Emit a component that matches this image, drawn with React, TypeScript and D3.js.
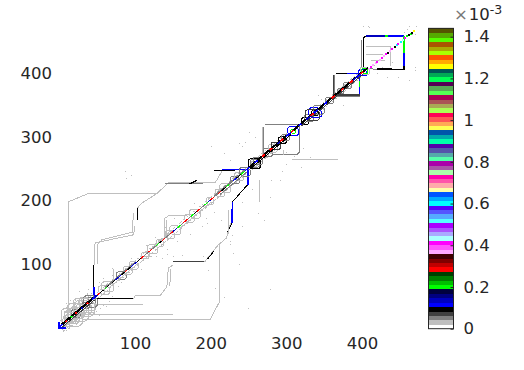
import { useEffect, useRef } from "react";
import * as d3 from "d3";

const axisTicks = [100, 200, 300, 400];
const colorTicks = [0, 0.2, 0.4, 0.6, 0.8, 1, 1.2, 1.4];
const colorTickLabels = ["0", "0.2", "0.4", "0.6", "0.8", "1", "1.2", "1.4"];
const maxValue = 1.44;

// colormap, lowest value first
const palette = [
  "#ffffff", "#bfbfbf", "#808080", "#404040", "#000000", "#0000ff", "#0000bf", "#00007f", "#00003f",
  "#00ff00", "#00bf00", "#007f00", "#003f00", "#ff0000", "#bf0000", "#7f0000", "#3f0000",
  "#ffaaff", "#ff55ff", "#ff00ff", "#aaffff", "#aaaaff", "#aa55ff", "#aa00ff",
  "#55ffff", "#55aaff", "#5555ff", "#5500ff", "#00ffff", "#00aaff", "#0055ff",
  "#ffffaa", "#ffaaaa", "#ff55aa", "#ff00aa", "#aaffaa", "#aa55aa", "#aa00aa",
  "#55ffaa", "#55aaaa", "#5555aa", "#5500aa", "#00ffaa", "#00aaaa", "#0055aa",
  "#ffff55", "#ffaa55", "#ff5555", "#ff0055", "#aaff55", "#aaaa55", "#aa5555", "#aa0055",
  "#55ff55", "#55aa55", "#550055", "#00ff55", "#00aa55", "#005555",
  "#ffff00", "#ffaa00", "#ff5500", "#aaff00", "#aaaa00", "#aa5500", "#55ff00", "#55aa00", "#555500",
];

// value levels used below (x 1e-3)
const LIGHT = 0.03;
const MID = 0.053;
const DARK = 0.075;
const BLACK = 0.095;
const BLUE = 0.117;
const NAVY = 0.14;
const GREEN = 0.2;
const RED = 0.285;

// long off-diagonal ridges: value, then [row, col] points
const ridges: [number, [number, number][]][] = [
  [BLACK, [[45, 46], [45, 98]]],
  [BLUE, [[46, 46], [46, 64]]],
  [LIGHT, [[46, 98], [47, 133], [54, 135], [98, 146], [100, 160]]],
  [LIGHT, [[50, 100], [50, 130], [56, 138], [96, 150], [98, 180]]],
  [BLACK, [[103, 170], [103, 188]]],
  [LIGHT, [[103, 188], [109, 196], [129, 211], [144, 228], [206, 228], [215, 246]]],
  [MID, [[140, 226], [190, 226]]],
  [BLACK, [[172, 226], [182, 232]]],
  [LIGHT, [[12, 17], [12, 198], [38, 211], [129, 211]]],
  [LIGHT, [[139, 143], [139, 172], [146, 177], [168, 177]]],
  [LIGHT, [[142, 146], [142, 170]]],
  [BLUE, [[215, 249], [250, 249]]],
  [BLACK, [[205, 247], [232, 247]]],
  [BLACK, [[46, 45], [98, 45]]],
  [LIGHT, [[98, 45], [100, 50], [133, 50], [142, 64], [144, 94], [150, 98]]],
  [LIGHT, [[146, 66], [147, 92]]],
  [DARK, [[150, 104], [192, 104]]],
  [LIGHT, [[192, 103], [199, 114], [210, 130], [221, 141], [226, 164]]],
  [BLACK, [[196, 108], [204, 120]]],
  [BLUE, [[228, 164], [229, 198]]],
  [BLACK, [[222, 150], [228, 164]]],
  [BLACK, [[229, 198], [240, 213], [249, 225]]],
  [BLUE, [[249, 225], [249, 248]]],
  [LIGHT, [[223, 148], [223, 185]]],
  [LIGHT, [[31, 12], [199, 12], [211, 39], [211, 130]]],
  [LIGHT, [[46, 36], [110, 36]]],
  [LIGHT, [[30, 20], [150, 20]]],
  [LIGHT, [[20, 24], [46, 24]]],
  [LIGHT, [[264, 198], [264, 232]]],
  [LIGHT, [[307, 264], [368, 264]]],
  [LIGHT, [[72, 74], [72, 92]]],
  [LIGHT, [[110, 112], [122, 112]]],
];

// square blocks on the diagonal, the larger ones have their own edges
const blocks: [number, [number, number][]][] = [
  [BLACK, [[402, 405], [402, 456], [405, 459]]],
  [MID, [[400, 410], [400, 452]]],
  [NAVY, [[405, 459], [430, 459]]],
  [GREEN, [[430, 459], [434, 459]]],
  [BLUE, [[434, 459], [456, 459]]],
  [GREEN, [[456, 459], [456, 432]]],
  [BLUE, [[456, 432], [456, 412]]],
  [BLACK, [[456, 412], [456, 406]]],
  [BLACK, [[456, 406], [420, 407]]],
  [MID, [[420, 406], [410, 408]]],
  [LIGHT, [[406, 442], [438, 442], [438, 411]]],
  [LIGHT, [[406, 430], [428, 430]]],
  [LIGHT, [[412, 420], [430, 420]]],
  [BLACK, [[366, 400], [380, 400]]],
  [BLUE, [[380, 400], [397, 400]]],
  [BLUE, [[397, 400], [397, 388]]],
  [GREEN, [[397, 388], [397, 378]]],
  [BLUE, [[397, 378], [397, 367]]],
  [DARK, [[397, 366], [364, 366]]],
  [MID, [[397, 364.5], [364, 364.5]]],
  [MID, [[364, 366], [364, 398]]],
  [DARK, [[362.5, 366], [362.5, 398]]],
  [MID, [[272, 319], [316, 319], [318, 316], [318, 277], [314, 272], [282, 272]]],
  [MID, [[270, 316], [270, 274]]],
  [LIGHT, [[268, 316], [268, 276]]],
  [LIGHT, [[296, 272], [296, 280]]],
];

// loops around the diagonal: from, to, value
const loops: [number, number, number][] = [
  [4, 14, LIGHT], [8, 20, LIGHT], [6, 26, LIGHT], [14, 32, LIGHT], [10, 38, LIGHT], [20, 42, LIGHT], [26, 48, LIGHT], [32, 50, MID],
  [16, 28, MID], [30, 40, MID], [38, 48, MID], [12, 24, LIGHT], [22, 36, LIGHT], [2, 30, LIGHT], [18, 46, LIGHT],
  [52, 66, LIGHT], [56, 72, LIGHT], [76, 88, MID], [84, 96, LIGHT], [92, 104, LIGHT],
  [108, 118, LIGHT], [116, 130, LIGHT], [128, 138, LIGHT], [140, 152, LIGHT], [146, 160, LIGHT], [166, 178, LIGHT], [172, 186, LIGHT],
  [194, 204, LIGHT], [206, 218, LIGHT], [212, 226, LIGHT], [226, 238, MID], [232, 244, LIGHT], [238, 252, MID],
  [250, 266, BLACK], [252, 264, MID], [254, 262, LIGHT], [256, 268, MID],
  [268, 276, LIGHT], [270, 282, MID], [276, 288, LIGHT], [280, 292, DARK], [290, 300, BLACK], [294, 304, MID], [302, 316, BLUE], [306, 312, GREEN],
  [320, 330, BLACK], [324, 336, MID], [330, 346, BLUE], [334, 342, BLACK], [336, 350, MID], [326, 344, DARK],
  [352, 362, MID], [368, 376, MID], [376, 386, MID], [396, 406, BLUE], [398, 410, LIGHT], [400, 408, GREEN],
];

// small blue corner at the very start
const startCorner: [number, number][] = [[-1, 8], [-1, -1], [8, -1]];

// runs along the diagonal: from, to, value
const diagonal: [number, number, number][] = [
  [1, 4, BLUE], [4, 8, BLACK], [8, 10, RED], [10, 15, BLACK], [15, 17, GREEN], [17, 21, BLACK], [21, 23, RED], [23, 29, BLACK], [29, 31, NAVY],
  [31, 36, BLACK], [36, 38, RED], [38, 43, BLACK], [43, 47, BLUE], [47, 50, NAVY], [50, 54, RED], [54, 58, BLACK], [58, 60, LIGHT], [60, 63, GREEN],
  [63, 66, BLACK], [66, 70, MID], [70, 74, BLACK], [74, 78, NAVY], [78, 82, BLUE], [82, 86, BLACK], [86, 90, RED], [90, 94, BLACK],
  [94, 98, BLUE], [98, 103, NAVY], [103, 108, BLACK], [108, 112, RED], [112, 118, MID], [118, 122, RED], [122, 128, MID], [128, 132, GREEN],
  [132, 136, BLACK], [136, 140, RED], [140, 146, MID], [146, 150, RED], [150, 156, NAVY], [156, 160, GREEN], [160, 164, MID], [164, 170, RED],
  [170, 174, MID], [174, 178, GREEN], [178, 182, BLACK], [182, 186, RED], [186, 192, MID], [192, 196, GREEN], [196, 200, NAVY], [200, 204, RED],
  [204, 210, MID], [210, 214, RED], [214, 220, BLACK], [220, 224, GREEN], [224, 230, MID], [230, 234, BLUE], [234, 240, BLACK], [240, 246, GREEN],
  [246, 252, BLUE], [252, 258, BLACK], [258, 262, BLUE], [262, 268, BLACK], [268, 272, RED], [272, 278, BLACK], [278, 282, RED], [282, 288, BLACK],
  [288, 292, NAVY], [292, 296, RED], [296, 300, BLACK], [300, 306, BLUE], [306, 310, RED], [310, 316, BLACK], [316, 320, BLUE], [320, 326, BLACK],
  [326, 332, NAVY], [332, 336, RED], [336, 342, BLUE], [342, 350, BLACK], [350, 354, BLUE], [354, 360, BLACK], [360, 364, RED], [364, 372, BLACK],
  [372, 376, RED], [376, 384, BLACK], [384, 388, RED], [388, 394, NAVY], [394, 398, BLUE], [398, 402, RED], [402, 408, BLACK],
];

// shoulders either side of the diagonal: from, to, offset, value
const shoulders: [number, number, number, number][] = [
  [2, 44, 3, BLACK], [4, 46, -3, DARK], [250, 302, 2.5, BLACK], [252, 306, -2.5, BLACK], [310, 400, 2.5, BLACK], [320, 402, -2.5, DARK],
  [60, 100, 3, MID], [66, 104, -3, LIGHT], [120, 150, 3, LIGHT], [160, 200, -3, LIGHT], [204, 246, 3, MID], [212, 248, -3, MID],
];

// broken grey bands next to the diagonal: from, to, offset
const greyBands: [number, number, number][] = [
  [3, 46, 7], [3, 46, -7], [5, 44, 11], [5, 44, -11], [8, 40, 15], [8, 40, -14], [6, 42, 4.5], [6, 42, -4.5],
  [50, 110, 5], [50, 110, -5], [110, 160, 5], [110, 160, -5], [160, 250, 5], [160, 250, -5],
  [255, 300, 6], [255, 300, -6], [340, 400, 5], [340, 400, -5],
];

// loose dots on the diagonal of the top block: position, value
const topDots: [number, number][] = [
  [408, 0.37], [411, 0.42], [414, 0.37], [417, 0.37], [419, 0.42], [422, 0.37], [425, 0.42], [428, 0.37], [431, 0.42], [433, 0.095],
  [436, 0.37], [439, 0.42], [442, 0.095], [445, 0.6], [447, 0.42], [450, 0.6], [453, 0.44], [456, 0.42],
  [459, 0.2], [461, 0.095], [463, 0.2], [465, 0.095], [468, 1.25],
];

// stray pixels: [x, y]
const strays: [number, number][] = [
  [-1, 4], [1, 12], [4, 18], [6, 26], [9, 33], [12, 22], [16, 38], [20, 44], [22, 30], [28, 48], [30, 40], [36, 54], [38, 60], [14, 44], [8, 38], [26, 58],
  [15, 4], [22, 6], [26, 10], [34, 14], [42, 22], [48, 26], [54, 30], [58, 36], [52, 20], [62, 34], [66, 42], [70, 50],
  [52, 72], [58, 78], [62, 68], [70, 82], [78, 66], [82, 72], [88, 84], [70, 94],
  [94, 110], [108, 92], [114, 130], [128, 112], [126, 142], [142, 124], [140, 158], [156, 136], [152, 172], [172, 148], [178, 196], [194, 172],
  [150, 112], [142, 116], [158, 104], [162, 114], [196, 90], [206, 62], [218, 48], [190, 112], [120, 122], [136, 110],
  [88, 236], [87, 246], [94, 240], [195, 165], [205, 182], [188, 160], [225, 132], [230, 118], [228, 146], [226, 136], [238, 100], [242, 160],
  [254, 218], [262, 180], [270, 170], [278, 206], [242, 198], [214, 170], [250, 30], [278, 60],
  [242, 286], [246, 292], [251, 308], [238, 290], [258, 300], [268, 292], [300, 276], [310, 270], [322, 282], [332, 268],
  [300, 258], [294, 246], [280, 232], [292, 232], [320, 252], [200, 285], [218, 274], [226, 263], [372, 374], [384, 378], [346, 360], [342, 366],
  [410, 408], [416, 414], [420, 400], [426, 410], [433, 395], [470, 410], [470, 405], [440, 418], [448, 395], [462, 390],
  [460, 470], [462, 474], [456, 466], [470, 462], [472, 474], [466, 462], [402, 475], [408, 475], [410, 473], [375, 350],
];

// black off-diagonal lines stay one pixel, the coloured ones are two
const ridgeWidth = (v: number) => (v > BLACK ? 1.7 : 1);

export default function App() {
  const ref = useRef<SVGSVGElement>(null);

  useEffect(() => {
    const svg = d3.select(ref.current);
    svg.selectAll("*").remove();

    const x = d3.scaleLinear().domain([0, 470]).range([59.5, 414.8]);
    const y = d3.scaleLinear().domain([0, 470]).range([327.5, 29]);
    const color = d3.scaleQuantize<string>().domain([0, maxValue]).range(palette);
    const line = d3.line<[number, number]>().x((d) => x(d[0])).y((d) => y(d[1]));
    const plot = svg.append("g").attr("shape-rendering", "crispEdges").attr("fill", "none");

    const stroke = (pts: [number, number][], v: number, w = 1) =>
      plot.append("path").attr("d", line(pts)).attr("stroke", color(v)).attr("stroke-width", w);

    strays.forEach(([sx, sy]) => {
      plot.append("rect").attr("x", Math.round(x(sx))).attr("y", Math.round(y(sy))).attr("width", 1).attr("height", 1).attr("fill", color(LIGHT));
    });
    greyBands.forEach(([a, b, o]) => {
      stroke([[a, a + o], [b, b + o]], LIGHT).attr("stroke-dasharray", "2,2");
    });
    ridges.forEach(([v, pts]) => stroke(pts, v, ridgeWidth(v)));
    blocks.forEach(([v, pts]) => stroke(pts, v, v >= DARK ? 1.7 : 1));
    loops.forEach(([a, b, v]) => {
      // octagon around the stretch of diagonal, so it reads as a diamond rather than a box
      const c = (b - a) * 0.3;
      stroke([[a + c, a], [b - c * 0.5, a], [b, a + c * 0.5], [b, b - c], [b - c, b], [a + c * 0.5, b], [a, b - c * 0.5], [a, a + c], [a + c, a]], v);
    });
    stroke(startCorner, BLUE, 1.7);
    shoulders.forEach(([a, b, o, v]) => stroke([[a, a + o], [b, b + o]], v));
    diagonal.forEach(([a, b, v]) => stroke([[a, a + 1], [b, b + 1]], v, a < 50 || a >= 250 ? 1.7 : 1));
    topDots.forEach(([p, v]) => {
      plot.append("rect").attr("x", Math.round(x(p))).attr("y", Math.round(y(p + 1))).attr("width", 1.5).attr("height", 1.5).attr("fill", color(v));
    });

    const xAxis = svg.append("g").attr("transform", "translate(0,327)")
      .call(d3.axisBottom(x).tickValues(axisTicks).tickSize(0).tickPadding(10));
    const yAxis = svg.append("g").attr("transform", "translate(59,0)")
      .call(d3.axisLeft(y).tickValues(axisTicks).tickSize(0).tickPadding(7));

    // colorbar
    const barX = 428.5;
    const barW = 25;
    const cy = d3.scaleLinear().domain([0, 1.4]).range([328.7, 36.7]);
    const bar = svg.append("g");
    const step = maxValue / palette.length;
    bar.selectAll("rect").data(palette).join("rect")
      .attr("shape-rendering", "crispEdges")
      .attr("x", barX).attr("width", barW)
      .attr("y", (_, i) => cy((i + 1) * step))
      .attr("height", (_, i) => cy(i * step) - cy((i + 1) * step) + 0.5)
      .attr("fill", (d) => d);
    bar.append("rect").attr("x", barX).attr("y", cy(maxValue)).attr("width", barW).attr("height", cy(0) - cy(maxValue))
      .attr("fill", "none").attr("stroke", "#262626");
    const cAxis = svg.append("g").attr("transform", `translate(${barX + barW},0)`)
      .call(d3.axisRight(cy).tickValues(colorTicks).tickSize(-3).tickPadding(10).tickFormat((_, i) => colorTickLabels[i]));
    cAxis.selectAll("line").attr("stroke", "#262626");

    [xAxis, yAxis, cAxis].forEach((a) => {
      a.select(".domain").remove();
      a.selectAll("text").attr("fill", "#262626").style("font-family", "DejaVu Sans").style("font-size", "16.5px");
    });

    const exp = svg.append("text").attr("x", 454).attr("y", 20).attr("fill", "#262626")
      .style("font-family", "DejaVu Sans").style("font-size", "16.5px");
    exp.append("tspan").text("×").attr("fill", "#777");
    exp.append("tspan").text("10").attr("dx", 1);
    exp.append("tspan").text("-3").attr("dy", -6).style("font-size", "12.5px");
  }, []);

  return <svg ref={ref} width={524} height={370} style={{ position: "absolute", left: 0, top: 0, background: "#fff" }} />;
}
